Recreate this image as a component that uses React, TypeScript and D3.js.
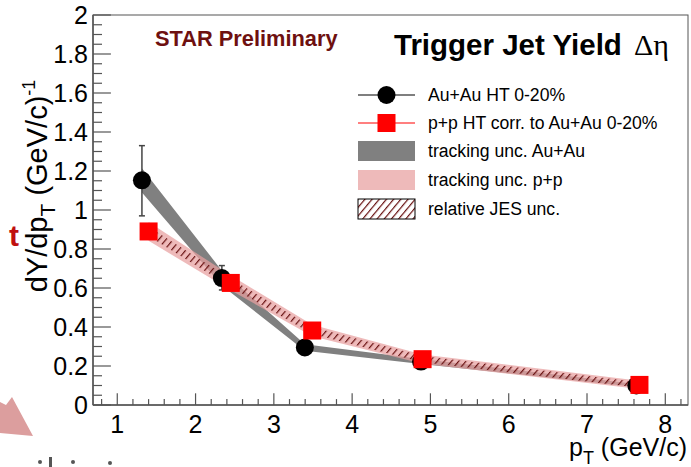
import React from "react";
import * as d3 from "d3";

// ---- data ----
const auX = [1.315, 2.336, 3.396, 4.88, 7.63];
const auY = [1.152, 0.651, 0.295, 0.223, 0.1];
const auStatLo = [0.97, 0.59, 0.285, 0.215, 0.095];
const auStatHi = [1.33, 0.715, 0.305, 0.231, 0.105];
const auTrackErr = [0.062, 0.038, 0.017, 0.013, 0.008];

const ppX = [1.4, 2.45, 3.49, 4.9, 7.67];
const ppY = [0.89, 0.626, 0.382, 0.235, 0.103];
const ppTrackErr = [0.048, 0.038, 0.03, 0.024, 0.021];
const ppJesErr = [0.024, 0.021, 0.018, 0.016, 0.014];

const xMajorTicks = [1, 2, 3, 4, 5, 6, 7, 8];
const yMajorTicks = [0, 0.2, 0.4, 0.6, 0.8, 1, 1.2, 1.4, 1.6, 1.8, 2];
const yTickLabels = ["0", "0.2", "0.4", "0.6", "0.8", "1", "1.2", "1.4", "1.6", "1.8", "2"];

const legendLabels = [
  "Au+Au HT 0-20%",
  "p+p HT corr. to Au+Au 0-20%",
  "tracking unc. Au+Au",
  "tracking unc. p+p",
  "relative JES unc.",
];

const W = 691;
const H = 467;
const FONT = "'Liberation Sans', Arial, Helvetica, sans-serif";

export default function App() {
  const x = d3.scaleLinear().domain([0.69, 8.29]).range([93, 688]);
  const y = d3.scaleLinear().domain([0, 2]).range([405, 15]);

  const xMinor = d3.range(0.8, 8.21, 0.2).filter(
    (v) => Math.abs(v - Math.round(v)) > 1e-6
  );
  const yMinor = d3.range(0, 2.001, 0.05).filter(
    (v) => Math.abs(v * 5 - Math.round(v * 5)) > 1e-6
  );

  const au = auX.map((v, i) => ({ x: v, y: auY[i], e: auTrackErr[i], lo: auStatLo[i], hi: auStatHi[i] }));
  const pp = ppX.map((v, i) => ({ x: v, y: ppY[i], e: ppTrackErr[i], j: ppJesErr[i] }));

  const band = (key: "e" | "j") =>
    d3
      .area<any>()
      .x((d) => x(d.x))
      .y0((d) => y(d.y - d[key]))
      .y1((d) => y(d.y + d[key]));
  const auBand = band("e")(au) as string;
  const ppBand = band("e")(pp) as string;
  const jesBand = band("j")(pp) as string;

  const axisColor = "#555";
  const x0 = 93, x1 = 688, yB = 405, yT = 15;
  const sq = 18;
  const r = 9;

  const legY = [95, 123, 151, 180, 209];
  const legX0 = 358, legX1 = 415, legTx = 428;
  const legMid = (legX0 + legX1) / 2;

  return (
    <svg width={W} height={H} style={{ position: "absolute", left: 0, top: 0, background: "#fff" }}>
      <defs>
        <pattern id="hatch" patternUnits="userSpaceOnUse" width="5.5" height="5.5" patternTransform="rotate(40)">
          <line x1="0" y1="0" x2="0" y2="5.5" stroke="#681010" strokeWidth="2.4" />
        </pattern>
        <clipPath id="plotclip">
          <rect x={x0} y={yT} width={x1 - x0} height={yB - yT} />
        </clipPath>
      </defs>
      <rect x={0} y={0} width={W} height={H} fill="#fff" />

      {/* artifacts from slide */}
      <text x={9} y={246} fontFamily={FONT} fontWeight="bold" fontSize={30} fill="#c01010">t</text>
      <path d="M0,402 L6,405 L12,397 L33,436 L0,433 Z" fill="#dc9e9e" />
      <circle cx={40} cy={462} r={2} fill="#555" />
      <rect x={49} y={457} width={3} height={10} fill="#555" />
      <circle cx={73} cy={462} r={2} fill="#555" />
      <circle cx={110} cy={463} r={2} fill="#555" />

      {/* frame */}
      <rect x={x0} y={yT} width={x1 - x0} height={yB - yT} fill="none" stroke={axisColor} strokeWidth={1} />

      {/* x ticks */}
      {xMajorTicks.map((t) => (
        <line key={"xm" + t} x1={x(t)} x2={x(t)} y1={yB} y2={yB - 11.7} stroke={axisColor} strokeWidth={1.2} />
      ))}
      {xMinor.map((t, i) => (
        <line key={"xn" + i} x1={x(t)} x2={x(t)} y1={yB} y2={yB - 5.9} stroke={axisColor} strokeWidth={1.2} />
      ))}
      {/* y ticks */}
      {yMajorTicks.map((t) => (
        <line key={"ym" + t} x1={x0} x2={x0 + 17.9} y1={y(t)} y2={y(t)} stroke={axisColor} strokeWidth={1.2} />
      ))}
      {yMinor.map((t, i) => (
        <line key={"yn" + i} x1={x0} x2={x0 + 9} y1={y(t)} y2={y(t)} stroke={axisColor} strokeWidth={1.2} />
      ))}
      <line x1={x0} x2={x1} y1={yB} y2={yB} stroke={axisColor} strokeWidth={1.5} />
      <line x1={x0} x2={x0} y1={yT} y2={yB} stroke={axisColor} strokeWidth={1.5} />

      {/* tick labels */}
      {xMajorTicks.map((t) => (
        <text key={"xl" + t} x={x(t)} y={433} textAnchor="middle" fontFamily={FONT} fontSize={25} fill="#000">
          {t}
        </text>
      ))}
      {yMajorTicks.map((t, i) => (
        <text key={"yl" + t} x={88} y={y(t) + 9} textAnchor="end" fontFamily={FONT} fontSize={25} fill="#000">
          {yTickLabels[i]}
        </text>
      ))}

      {/* axis titles */}
      <text x={687} y={456} textAnchor="end" fontFamily={FONT} fontSize={25} fill="#000">
        p<tspan fontSize={18} dy={8}>T</tspan>
        <tspan dy={-8}> (GeV/c)</tspan>
      </text>
      <text
        transform={`translate(47,${186}) rotate(-90)`}
        textAnchor="middle"
        fontFamily={FONT}
        fontSize={29}
        fill="#000"
      >
        dY/dp<tspan fontSize={21} dy={8}>T</tspan>
        <tspan dy={-8}>  (GeV/c)</tspan>
        <tspan fontSize={18} dy={-12}>-1</tspan>
      </text>

      {/* data */}
      <g clipPath="url(#plotclip)">
        <path d={auBand} fill="#808080" />
        <path d={ppBand} fill="#e8a0a0" fillOpacity={0.72} />
        <path d={jesBand} fill="url(#hatch)" />
        {au.map((d, i) => (
          <g key={"ae" + i}>
            <line x1={x(d.x)} x2={x(d.x)} y1={y(d.lo)} y2={y(d.hi)} stroke="#444" strokeWidth={1.5} />
            <line x1={x(d.x) - 3} x2={x(d.x) + 3} y1={y(d.lo)} y2={y(d.lo)} stroke="#444" strokeWidth={1.5} />
            <line x1={x(d.x) - 3} x2={x(d.x) + 3} y1={y(d.hi)} y2={y(d.hi)} stroke="#444" strokeWidth={1.5} />
          </g>
        ))}
        {au.map((d, i) => (
          <circle key={"ac" + i} cx={x(d.x)} cy={y(d.y)} r={r} fill="#000" />
        ))}
        {pp.map((d, i) => (
          <rect key={"ps" + i} x={x(d.x) - sq / 2} y={y(d.y) - sq / 2} width={sq} height={sq} fill="#f00" />
        ))}
      </g>

      {/* header texts */}
      <text x={155} y={46} fontFamily={FONT} fontWeight="bold" fontSize={21.8} fill="#6e1010">
        STAR Preliminary
      </text>
      <text x={394} y={55} fontFamily={FONT} fontWeight="bold" fontSize={29.5} fill="#000">
        Trigger Jet Yield
      </text>
      <text x={634} y={55} fontFamily="'Liberation Serif', 'Times New Roman', serif" fontSize={30} fill="#000">
        Δη
      </text>

      {/* legend */}
      <line x1={legX0} x2={legX1} y1={legY[0]} y2={legY[0]} stroke="#000" strokeWidth={1.2} />
      <circle cx={legMid} cy={legY[0]} r={r} fill="#000" />
      <line x1={legX0} x2={legX1} y1={legY[1]} y2={legY[1]} stroke="#f00" strokeWidth={1.2} />
      <rect x={legMid - 9} y={legY[1] - 9} width={18} height={18} fill="#f00" />
      <rect x={legX0} y={legY[2] - 10} width={legX1 - legX0} height={20} fill="#808080" />
      <rect x={legX0} y={legY[3] - 10} width={legX1 - legX0} height={20} fill="#e8a0a0" fillOpacity={0.72} />
      <rect x={legX0} y={legY[4] - 10} width={legX1 - legX0} height={20} fill="url(#hatch)" stroke="#000" strokeWidth={1} />
      {legendLabels.map((l, i) => (
        <text key={l} x={legTx} y={legY[i] + 6} fontFamily={FONT} fontSize={17.6} fill="#000">
          {l}
        </text>
      ))}
    </svg>
  );
}
